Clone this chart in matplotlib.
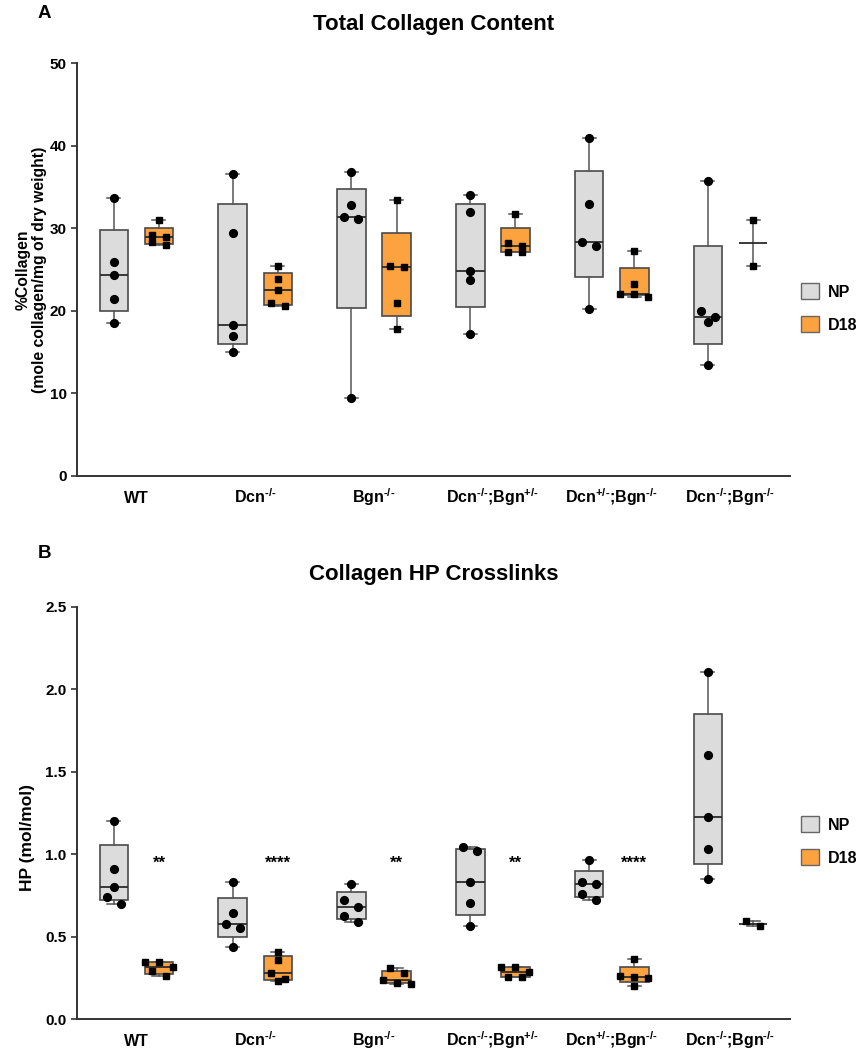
import numpy as np
import matplotlib
matplotlib.use("Agg")
import matplotlib.pyplot as plt
from matplotlib.patches import Patch

plt.rcParams['font.family'] = ['Liberation Sans', 'DejaVu Sans']
plt.rcParams['font.weight'] = 'bold'
plt.rcParams['mathtext.fontset'] = 'custom'
plt.rcParams['mathtext.rm'] = 'Liberation Sans:bold'
plt.rcParams['mathtext.it'] = 'Liberation Sans:bold'
plt.rcParams['mathtext.bf'] = 'Liberation Sans:bold'

# ---------------- data ----------------
groups = ["WT", "Dcn$^{‐/‐}$", "Bgn$^{‐/‐}$",
          "Dcn$^{‐/‐}$;Bgn$^{+/‐}$", "Dcn$^{+/‐}$;Bgn$^{‐/‐}$", "Dcn$^{‐/‐}$;Bgn$^{‐/‐}$"]

# A: %Collagen
collagen_np = [
    [33.7, 25.9, 24.4, 21.5, 18.5],
    [36.6, 29.4, 18.3, 17.0, 15.0],
    [36.8, 32.8, 31.4, 31.1, 9.5],
    [34.0, 32.0, 24.8, 23.8, 17.2],
    [41.0, 33.0, 28.3, 27.9, 20.2],
    [35.8, 20.0, 19.3, 18.6, 13.4],
]
collagen_d18 = [
    [31.0, 29.2, 28.9, 28.3, 28.0],
    [25.4, 23.9, 22.5, 20.9, 20.6],
    [33.4, 25.5, 25.3, 20.9, 17.8],
    [31.8, 28.2, 27.9, 27.1, 27.1],
    [27.2, 23.3, 22.1, 22.1, 21.7],
    [31.0, 25.5],
]

# B: HP crosslinks
hp_np = [
    [1.20, 0.913, 0.80, 0.74, 0.70],
    [0.83, 0.645, 0.575, 0.555, 0.44],
    [0.82, 0.72, 0.68, 0.625, 0.59],
    [1.045, 1.02, 0.83, 0.705, 0.565],
    [0.965, 0.83, 0.82, 0.76, 0.72],
    [2.105, 1.60, 1.225, 1.035, 0.85],
]
hp_d18 = [
    [0.35, 0.345, 0.32, 0.29, 0.265],
    [0.41, 0.36, 0.283, 0.242, 0.234],
    [0.31, 0.28, 0.24, 0.22, 0.215],
    [0.317, 0.315, 0.285, 0.258, 0.255],
    [0.365, 0.265, 0.258, 0.25, 0.20],
    [0.594, 0.566],
]
hp_signif = ["**", "****", "**", "**", "****", ""]
hp_signif_y = 0.945

NP_COLOR = "#DCDCDC"
D18_COLOR = "#FCA23F"
EDGE = "#4A4A4A"
OFF = 0.19      # offset of NP / D18 boxes from group centre
BOX_W = 0.24


def box_stats(vals):
    # Prism style quartiles ((n+1)p), whiskers min to max
    v = np.sort(np.asarray(vals, dtype=float))
    med = float(np.median(v))
    if len(v) < 3:
        q1 = q3 = med
    else:
        q1, q3 = np.percentile(v, [25, 75], method="weibull")
    return dict(med=med, q1=q1, q3=q3, whislo=v.min(), whishi=v.max(), fliers=[])


def swarm_x(ax, x0, vals, diam_px=7.0, step_px=7.0):
    # points close in y are put side by side
    vals = np.asarray(vals, dtype=float)
    order = np.argsort(-vals)
    ypix = ax.transData.transform(np.column_stack([np.zeros(len(vals)), vals]))[:, 1]
    px_per_unit = ax.transData.transform((1, 0))[0] - ax.transData.transform((0, 0))[0]
    rows, cur = [], [order[0]]
    for i in order[1:]:
        if abs(ypix[cur[0]] - ypix[i]) < diam_px:
            cur.append(i)
        else:
            rows.append(cur)
            cur = [i]
    rows.append(cur)
    xs = np.full(len(vals), float(x0))
    for r in rows:
        k = len(r)
        for j, i in enumerate(r):
            xs[i] = x0 + (j - (k - 1) / 2) * 2 * step_px / px_per_unit
    return xs


def draw_panel(ax, np_data, d18_data, ylim, yticks, yticklabels, legend_y):
    x = np.arange(len(groups))
    ax.set_xlim(-0.5, len(groups) - 0.5)
    ax.set_ylim(*ylim)
    for data, pos, col, mk in [(np_data, x - OFF, NP_COLOR, "o"), (d18_data, x + OFF, D18_COLOR, "s")]:
        stats = [box_stats(v) for v in data]
        bp = ax.bxp(stats, positions=pos, widths=BOX_W, patch_artist=True, showfliers=False,
                    capwidths=0.11,
                    boxprops=dict(facecolor=col, edgecolor=EDGE, linewidth=1.2),
                    medianprops=dict(color="#2b2b2b", linewidth=1.3),
                    whiskerprops=dict(color="#555555", linewidth=1.1),
                    capprops=dict(color="#555555", linewidth=1.1))
        for b, v in zip(bp["boxes"], data):
            if len(v) < 3:
                b.set_visible(False)
        for p, v in zip(pos, data):
            xs = swarm_x(ax, p, v)
            ax.plot(xs, v, linestyle="none", marker=mk, color="black",
                    markersize=5.6 if mk == "o" else 5.0, zorder=4)
    ax.set_yticks(yticks)
    ax.set_yticklabels(yticklabels)
    ax.set_xticks(x)
    ax.set_xticklabels(groups, fontsize=11.5, fontweight="bold")
    for t in ax.get_xticklabels():
        t.set_verticalalignment("baseline")
    ax.tick_params(axis="x", length=0, pad=19.5)
    ax.tick_params(axis="y", length=4, width=1.2, labelsize=11, color="#333333")
    for s in ["top", "right"]:
        ax.spines[s].set_visible(False)
    for s in ["left", "bottom"]:
        ax.spines[s].set_linewidth(1.4)
        ax.spines[s].set_color("#333333")
    handles = [Patch(facecolor=NP_COLOR, edgecolor="#666666", label="NP"),
               Patch(facecolor=D18_COLOR, edgecolor="#666666", label="D18")]
    ax.legend(handles=handles, loc="center left", bbox_to_anchor=(1.0154, legend_y), frameon=False,
              borderpad=0, borderaxespad=0,
              handlelength=1.15, handleheight=1.15, labelspacing=1.05, handletextpad=0.55,
              prop=dict(size=11.5, weight="bold"))


fig = plt.figure(figsize=(8.6, 10.5), dpi=100)
axA = fig.add_axes([0.0895, 0.5467, 0.829, 0.393])
axB = fig.add_axes([0.0895, 0.0292, 0.829, 0.393])

draw_panel(axA, collagen_np, collagen_d18, (0, 50), [0, 10, 20, 30, 40, 50],
           ["0", "10", "20", "30", "40", "50"], 0.407)
axA.set_ylabel("%Collagen\n(mole collagen/mg of dry weight)", fontsize=11.3, fontweight="bold",
               linespacing=1.1)
axA.yaxis.set_label_coords(-0.042, 0.5)
axA.set_title("Total Collagen Content", fontsize=16, fontweight="bold", pad=24)

draw_panel(axB, hp_np, hp_d18, (0, 2.5), [0, 0.5, 1.0, 1.5, 2.0, 2.5],
           ["0.0", "0.5", "1.0", "1.5", "2.0", "2.5"], 0.432)
axB.set_ylabel("HP (mol/mol)", fontsize=12.5, fontweight="bold")
axB.yaxis.set_label_coords(-0.059, 0.44)
axB.set_title("Collagen HP Crosslinks", fontsize=16, fontweight="bold", pad=19)
for i, s in enumerate(hp_signif):
    if s:
        axB.text(i + OFF, hp_signif_y, s, ha="center", va="center", fontsize=12, fontweight="bold")

fig.text(0.044, 0.995, "A", fontsize=13.5, fontweight="bold", va="top")
fig.text(0.044, 0.481, "B", fontsize=13.5, fontweight="bold", va="top")

fig.savefig("out.png", dpi=100)
